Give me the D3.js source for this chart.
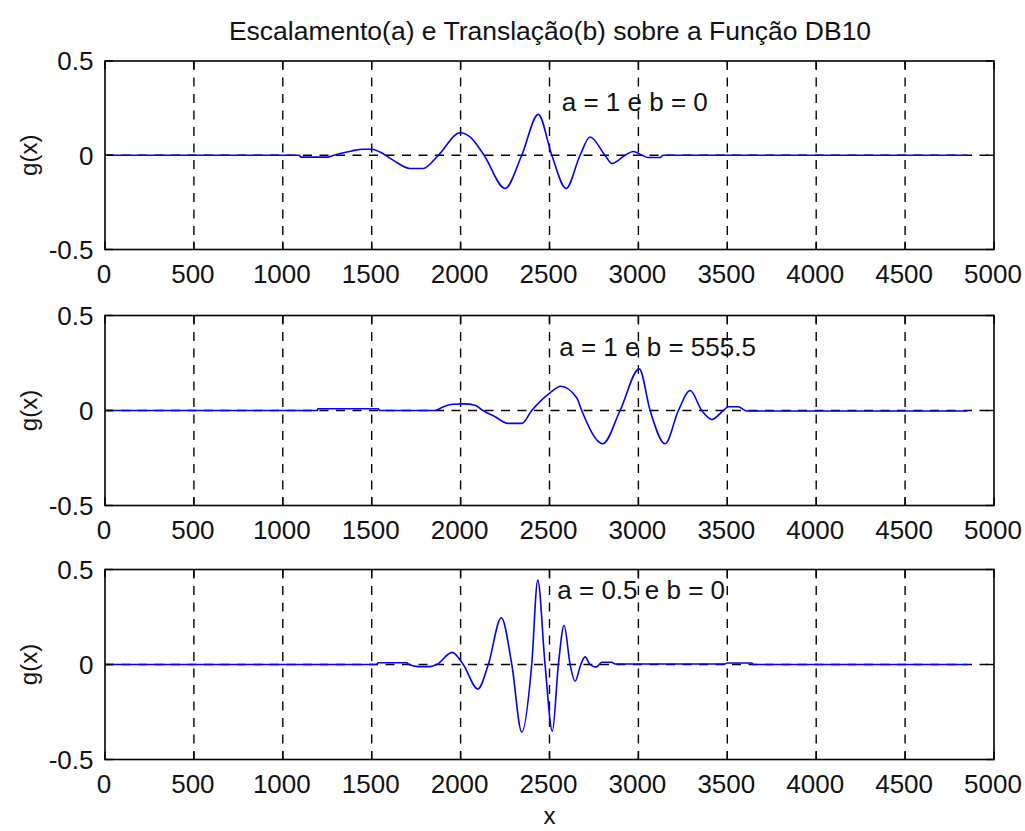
<!DOCTYPE html>
<html>
<head>
<meta charset="utf-8">
<title>Escalamento e Translação - DB10</title>
<script src="https://cdn.jsdelivr.net/npm/d3@7"></script>
<style>
  html, body { margin: 0; padding: 0; background: #ffffff; }
  svg { display: block; }
</style>
</head>
<body>
<svg id="chart" width="1025" height="831"></svg>
<script>
// ---- data ----
const chartTitle = "Escalamento(a) e Translação(b) sobre a Função DB10";
const xAxisLabel = "x";
const yAxisLabel = "g(x)";

const xTickValues = [0, 500, 1000, 1500, 2000, 2500, 3000, 3500, 4000, 4500, 5000];
const xTickLabels = ["0", "500", "1000", "1500", "2000", "2500", "3000", "3500", "4000", "4500", "5000"];
const yTickValues = [-0.5, 0, 0.5];
const yTickLabels = ["-0.5", "0", "0.5"];

// a = 1, b = 0
const wave1X = [0, 1091, 1103, 1249, 1288, 1322, 1388, 1451, 1500, 1547, 1620, 1716, 1789, 1875,
  1997, 2053, 2132, 2250, 2344, 2437, 2513, 2593, 2672, 2728, 2812, 2852, 2925, 2970, 3021,
  3054, 3122, 3139, 4849];
const wave1Y = [0, 0, -0.01, -0.01, 0, 0.009, 0.023, 0.032, 0.032, 0.017, -0.026, -0.07, -0.07, 0,
  0.119, 0.097, 0, -0.176, 0, 0.217, 0, -0.176, 0, 0.097, 0, -0.044, 0, 0.02, 0,
  -0.012, -0.012, 0, 0];

// a = 1, b = 555.5
const wave2X = [0, 1193, 1198, 1536, 1547, 1856, 1901, 1958, 2020, 2081, 2126, 2194, 2267, 2344, 2400,
  2503, 2563, 2653, 2681, 2800, 2897, 3005, 3066, 3150, 3225, 3291, 3356, 3413, 3478, 3506,
  3562, 3600, 3620, 4849];
const wave2Y = [0, 0, 0.009, 0.009, 0, 0, 0.019, 0.033, 0.035, 0.028, 0, -0.033, -0.068, -0.068, 0,
  0.093, 0.128, 0.067, 0, -0.175, 0, 0.219, 0, -0.175, 0, 0.105, 0, -0.047, 0, 0.02,
  0.02, 0, -0.003, -0.003];

// a = 0.5, b = 0
const wave3X = [0, 1528, 1536, 1697, 1710, 1761, 1828, 1866, 1952, 2015, 2097, 2156, 2229, 2288,
  2344, 2400, 2434, 2475, 2516, 2550, 2582, 2616, 2644, 2676, 2700, 2728, 2762, 2794, 2850,
  2869, 3488, 3499, 3638, 3645, 4849];
const wave3Y = [0, 0, 0.009, 0.009, 0, -0.011, -0.011, 0, 0.064, 0, -0.129, 0, 0.246, 0,
  -0.356, 0, 0.444, 0, -0.351, 0, 0.205, 0, -0.088, 0, 0.04, 0, -0.014, 0.012, 0.012,
  0.003, 0.003, 0.008, 0.008, 0, 0];

const panelLabels = ["a = 1 e b = 0", "a = 1 e b = 555.5", "a = 0.5 e b = 0"];
const panelLabelX = [2569, 2555, 2544];
const panelLabelY = [0.233, 0.286, 0.346];

// ---- layout ----
const plotLeft = 105, plotRight = 994;
const panelTop = [61, 315.5, 569.5];
const panelHeight = [188.5, 190, 190];
const fontFamily = "'Liberation Sans', Arial, Helvetica, sans-serif";
const textColor = "#111";

const panels = [
  { xs: wave1X, ys: wave1Y },
  { xs: wave2X, ys: wave2Y },
  { xs: wave3X, ys: wave3Y }
].map((p, i) => ({ ...p, label: panelLabels[i], lx: panelLabelX[i], ly: panelLabelY[i] }));

const svg = d3.select("#chart");
const x = d3.scaleLinear().domain([0, 5000]).range([plotLeft, plotRight]);

panels.forEach((p, i) => {
  const top = panelTop[i];
  const bottom = top + panelHeight[i];
  const y = d3.scaleLinear().domain([-0.5, 0.5]).range([bottom, top]);
  const g = svg.append("g").attr("class", "panel");

  // dashed grid
  g.append("g").selectAll("line")
    .data(xTickValues.filter(v => v > 0 && v < 5000))
    .join("line")
    .attr("x1", d => x(d)).attr("x2", d => x(d))
    .attr("y1", top).attr("y2", bottom)
    .attr("stroke", "#000").attr("stroke-width", 1.4)
    .attr("stroke-dasharray", "9,7.5");
  g.append("g").selectAll("line")
    .data(yTickValues.filter(v => v > -0.5 && v < 0.5))
    .join("line")
    .attr("x1", plotLeft).attr("x2", plotRight)
    .attr("y1", d => y(d)).attr("y2", d => y(d))
    .attr("stroke", "#000").attr("stroke-width", 1.4)
    .attr("stroke-dasharray", "9,7.5");

  // wavelet curve
  const line = d3.line()
    .x(d => x(d[0]))
    .y(d => y(d[1]))
    .curve(d3.curveMonotoneX);
  g.append("path")
    .datum(d3.zip(p.xs, p.ys))
    .attr("d", line)
    .attr("fill", "none")
    .attr("stroke", "#0000ff")
    .attr("stroke-width", 1.6)
    .attr("stroke-linejoin", "round");

  // axes box and inward ticks
  g.append("rect")
    .attr("x", plotLeft).attr("y", top)
    .attr("width", plotRight - plotLeft).attr("height", bottom - top)
    .attr("fill", "none").attr("stroke", "#000").attr("stroke-width", 1.6);

  const tickLen = 8;
  const xt = g.append("g");
  xTickValues.forEach(v => {
    xt.append("line").attr("x1", x(v)).attr("x2", x(v)).attr("y1", bottom).attr("y2", bottom - tickLen)
      .attr("stroke", "#000").attr("stroke-width", 1.4);
    xt.append("line").attr("x1", x(v)).attr("x2", x(v)).attr("y1", top).attr("y2", top + tickLen)
      .attr("stroke", "#000").attr("stroke-width", 1.4);
  });
  yTickValues.forEach(v => {
    xt.append("line").attr("x1", plotLeft).attr("x2", plotLeft + tickLen).attr("y1", y(v)).attr("y2", y(v))
      .attr("stroke", "#000").attr("stroke-width", 1.4);
    xt.append("line").attr("x1", plotRight).attr("x2", plotRight - tickLen).attr("y1", y(v)).attr("y2", y(v))
      .attr("stroke", "#000").attr("stroke-width", 1.4);
  });

  // tick labels
  g.append("g").selectAll("text")
    .data(xTickValues)
    .join("text")
    .attr("x", d => x(d) - 1)
    .attr("y", bottom + 33.5)
    .attr("text-anchor", "middle")
    .attr("font-family", fontFamily).attr("font-size", 26).attr("fill", textColor)
    .text((d, j) => xTickLabels[j]);
  g.append("g").selectAll("text")
    .data(yTickValues)
    .join("text")
    .attr("x", plotLeft - 11.5)
    .attr("y", d => y(d) + 9.3)
    .attr("text-anchor", "end")
    .attr("font-family", fontFamily).attr("font-size", 26).attr("fill", textColor)
    .text((d, j) => yTickLabels[j]);

  // y label
  const cy = (top + bottom) / 2;
  g.append("text")
    .attr("transform", `translate(37,${cy}) rotate(-90)`)
    .attr("text-anchor", "middle")
    .attr("font-family", fontFamily).attr("font-size", 24).attr("fill", textColor)
    .text(yAxisLabel);

  // parameter annotation
  g.append("text")
    .attr("x", x(p.lx))
    .attr("y", y(p.ly))
    .attr("text-anchor", "start")
    .attr("font-family", fontFamily).attr("font-size", 26).attr("fill", textColor)
    .text(p.label);
});

// title and x label
svg.append("text")
  .attr("x", 550).attr("y", 40)
  .attr("text-anchor", "middle")
  .attr("font-family", fontFamily).attr("font-size", 26.5).attr("fill", textColor)
  .text(chartTitle);

svg.append("text")
  .attr("x", 549.5).attr("y", 824)
  .attr("text-anchor", "middle")
  .attr("font-family", fontFamily).attr("font-size", 24).attr("fill", textColor)
  .text(xAxisLabel);
</script>
</body>
</html>
